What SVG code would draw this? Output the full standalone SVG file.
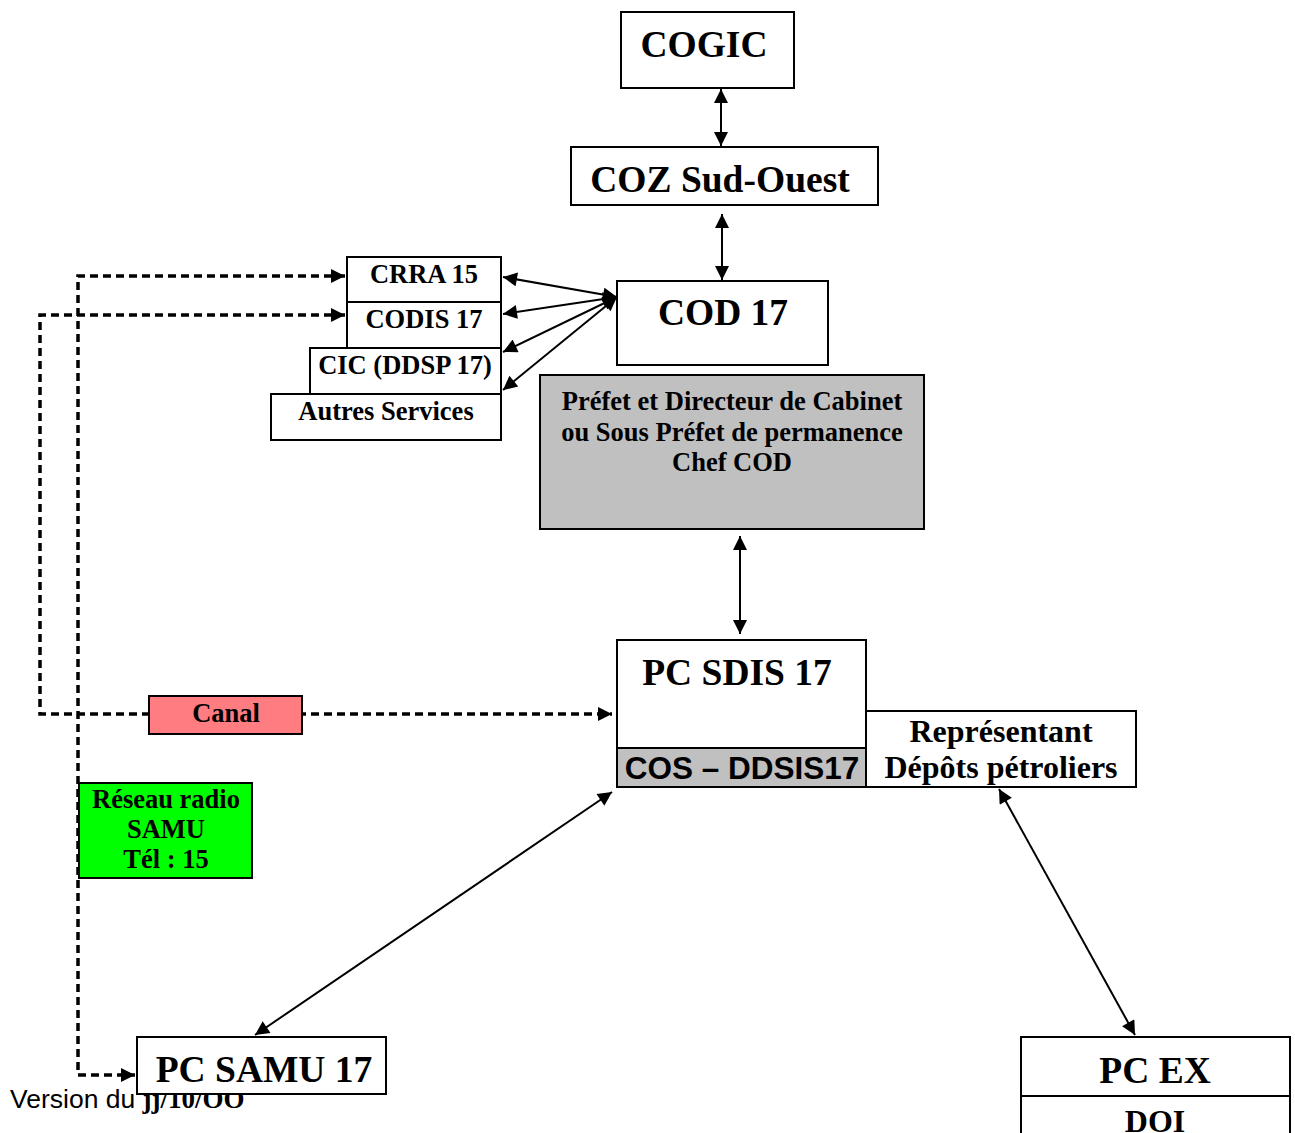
<svg xmlns="http://www.w3.org/2000/svg" width="1295" height="1133" viewBox="0 0 1295 1133">
<style>
.box{fill:#fff;stroke:#000;stroke-width:2}
.grey{fill:#c0c0c0;stroke:#000;stroke-width:2}
.t{font-family:"Liberation Serif","Times New Roman",serif;font-weight:bold;text-anchor:middle;fill:#000}
.big{font-size:37.5px}
.mid{font-size:32px}
.sm{font-size:26.5px}
.ln{stroke:#000;stroke-width:2;fill:none;marker-start:url(#ah);marker-end:url(#ah)}
.dash{stroke:#000;stroke-width:3.5;fill:none;stroke-dasharray:8 5}
</style>
<defs>
<marker id="ah" viewBox="0 0 10 10" refX="10" refY="5" markerWidth="8" markerHeight="7" markerUnits="strokeWidth" orient="auto-start-reverse">
<path d="M0,0 L10,5 L0,10 z" fill="#000"/>
</marker>
<marker id="dh" viewBox="0 0 10 10" refX="10" refY="5" markerWidth="4.5" markerHeight="4" markerUnits="strokeWidth" orient="auto-start-reverse">
<path d="M0,0 L10,5 L0,10 z" fill="#000"/>
</marker>
</defs>
<text x="10" y="1108" font-family="Liberation Sans, Arial, sans-serif" font-size="26.5" fill="#000">Version du <tspan font-family="Liberation Serif, serif" font-weight="bold" font-size="27">jj/10/OO</tspan></text>
<g id="connectors">
<line class="ln" x1="721" y1="89" x2="721" y2="146"/>
<line class="ln" x1="722" y1="214" x2="722" y2="280"/>
<line class="ln" x1="617" y1="297" x2="503" y2="277"/>
<line class="ln" x1="617" y1="297" x2="503" y2="314"/>
<line class="ln" x1="617" y1="297" x2="503" y2="352"/>
<line class="ln" x1="617" y1="297" x2="503" y2="390"/>
<line class="ln" x1="740" y1="536" x2="740" y2="634"/>
<line class="ln" x1="612" y1="792" x2="255" y2="1035"/>
<line class="ln" x1="999" y1="789" x2="1135" y2="1035"/>
<path class="dash" d="M345,276 H78 V1075 H135" marker-start="url(#dh)" marker-end="url(#dh)"/>
<path class="dash" d="M345,315 H40 V714 H612" marker-start="url(#dh)" marker-end="url(#dh)"/>
</g>
<g id="cogic"><rect class="box" x="621" y="12" width="173" height="76"/><text class="t big" x="704" y="57">COGIC</text></g>
<g id="coz"><rect class="box" x="571" y="147" width="307" height="58"/><text class="t big" x="720" y="192">COZ Sud-Ouest</text></g>
<g id="cod"><rect class="box" x="617" y="281" width="211" height="84"/><text class="t big" x="723" y="325">COD 17</text></g>
<g id="prefet"><rect class="grey" x="540" y="375" width="384" height="154"/>
<text class="t sm" x="732" y="410">Préfet et Directeur de Cabinet</text>
<text class="t sm" x="732" y="441">ou Sous Préfet de permanence</text>
<text class="t sm" x="732" y="471">Chef COD</text></g>
<g id="crra"><rect class="box" x="347" y="257" width="154" height="45"/><text class="t sm" x="424" y="283">CRRA 15</text></g>
<g id="codis"><rect class="box" x="347" y="302" width="154" height="46"/><text class="t sm" x="424" y="328">CODIS 17</text></g>
<g id="cic"><rect class="box" x="310" y="348" width="191" height="46"/><text class="t sm" x="405" y="374">CIC (DDSP 17)</text></g>
<g id="autres"><rect class="box" x="271" y="394" width="230" height="46"/><text class="t sm" x="386" y="420">Autres Services</text></g>
<g id="pcsdis"><rect class="box" x="617" y="640" width="249" height="108"/><text class="t big" x="737" y="685">PC SDIS 17</text>
<rect class="grey" x="617" y="748" width="249" height="39"/><text x="742" y="779" font-family="Liberation Sans, Arial, sans-serif" font-weight="bold" font-size="31.5" text-anchor="middle">COS – DDSIS17</text></g>
<g id="representant"><rect class="box" x="866" y="711" width="270" height="76"/>
<text class="t mid" x="1001" y="742">Représentant</text>
<text class="t mid" x="1001" y="778">Dépôts pétroliers</text></g>
<g id="canal"><rect x="149" y="696" width="153" height="38" fill="#ff7c80" stroke="#000" stroke-width="2"/><text class="t sm" x="226" y="722">Canal</text></g>
<g id="reseau"><rect x="79" y="783" width="173" height="95" fill="#00ff00" stroke="#000" stroke-width="2"/>
<text class="t sm" x="166" y="808">Réseau radio</text>
<text class="t sm" x="166" y="838">SAMU</text>
<text class="t sm" x="166" y="868">Tél : 15</text></g>
<g id="pcsamu"><rect class="box" x="137" y="1037" width="249" height="57"/><text class="t big" x="264" y="1082">PC SAMU 17</text></g>
<g id="pcex"><rect class="box" x="1021" y="1037" width="269" height="59"/><text class="t big" x="1155" y="1083">PC EX</text>
<rect class="box" x="1021" y="1096" width="269" height="45"/><text class="t mid" x="1155" y="1132">DOI</text></g>
</svg>
